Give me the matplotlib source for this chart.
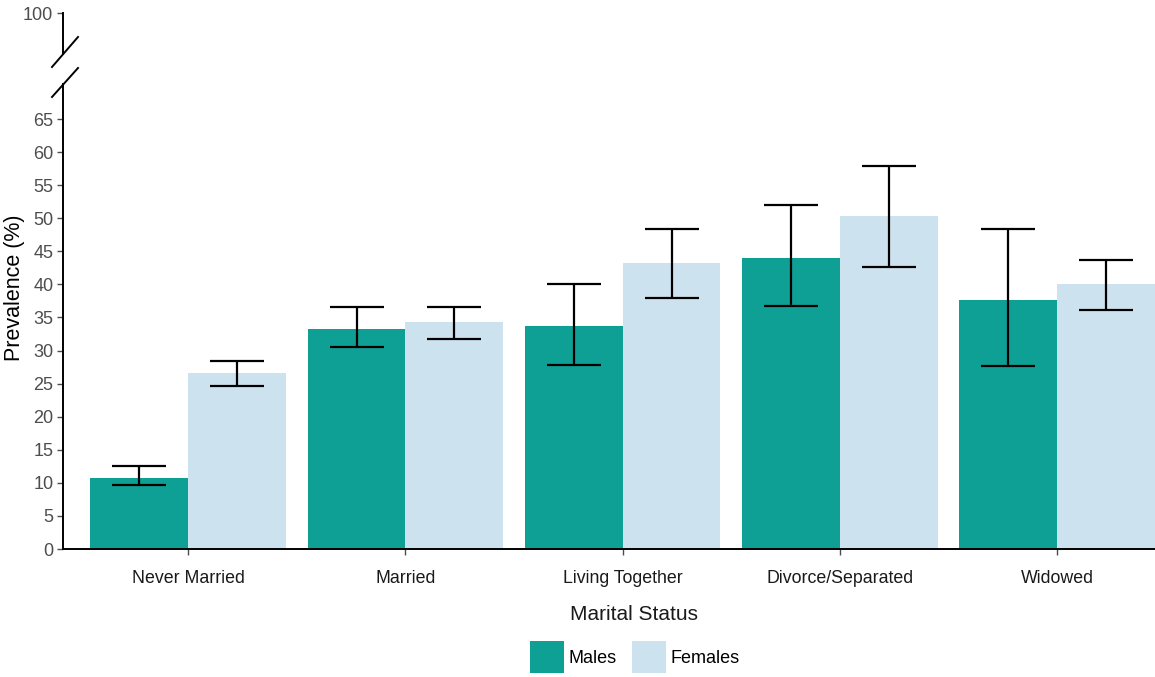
import matplotlib
matplotlib.use("Agg")
import matplotlib.pyplot as plt
from matplotlib.lines import Line2D
import numpy as np

plt.rcParams['font.family'] = ['Liberation Sans', 'DejaVu Sans']

categories = ["Never Married", "Married", "Living Together", "Divorce/Separated", "Widowed"]
males = [10.8, 33.3, 33.7, 44.0, 37.7]
males_low = [9.7, 30.6, 27.8, 36.8, 27.7]
males_high = [12.6, 36.6, 40.1, 52.0, 48.4]
females = [26.6, 34.3, 43.2, 50.4, 40.0]
females_low = [24.6, 31.7, 37.9, 42.7, 36.2]
females_high = [28.4, 36.6, 48.4, 57.9, 43.7]

teal = "#0fa095"
light = "#cde2ef"
tick_grey = "#4d4d4d"

W, H = 1155, 677
fig = plt.figure(figsize=(W / 100, H / 100), dpi=100)

def fx(px):
    return px / W

def fy(py):
    return 1 - py / H

left_px, right_px = 63, 1155
bottom_px, top_px = 549, 84
scale = (549 - 119) / 65.0  # pixels per percentage point

ax = fig.add_axes([fx(left_px), fy(bottom_px), fx(right_px - left_px), (bottom_px - top_px) / H])
ax_top = fig.add_axes([fx(left_px), fy(54), fx(right_px - left_px), (54 - 13) / H])

x = np.arange(len(categories))
w = 0.45
ax.bar(x - w / 2, males, width=w, color=teal, label="Males")
ax.bar(x + w / 2, females, width=w, color=light, label="Females")

m = np.array(males)
f = np.array(females)
ax.errorbar(x - w / 2, m, yerr=[m - np.array(males_low), np.array(males_high) - m],
            fmt="none", ecolor="black", elinewidth=1.6, capsize=19.5, capthick=1.6)
ax.errorbar(x + w / 2, f, yerr=[f - np.array(females_low), np.array(females_high) - f],
            fmt="none", ecolor="black", elinewidth=1.6, capsize=19.5, capthick=1.6)

ax.set_xlim(-0.576, 4.45)
ax.set_ylim(0, (bottom_px - top_px) / scale)
ax.set_yticks(np.arange(0, 70, 5))
ax.set_xticks(x)
ax.set_xticklabels(categories, fontsize=12.8, color="black")
ax.tick_params(axis="y", labelsize=13, colors=tick_grey, length=4, width=1, pad=3)
ax.tick_params(axis="x", length=4, width=1, colors=tick_grey, pad=11)
for lab in ax.get_xticklabels():
    lab.set_color("#1a1a1a")
for s in ["top", "right"]:
    ax.spines[s].set_visible(False)
for s in ["left", "bottom"]:
    ax.spines[s].set_linewidth(1.4)
    ax.spines[s].set_color("black")

# axis titles
fig.text(fx(15), fy(288), "Prevalence (%)", rotation=90, fontsize=15.5,
         ha="center", va="center", color="black")
fig.text(fx(634), fy(614), "Marital Status", fontsize=15,
         ha="center", va="center", color="#1a1a1a")

# upper segment of the broken axis
ax_top.set_xlim(ax.get_xlim())
ax_top.set_ylim(100 - 41 / scale, 100)
ax_top.set_yticks([100])
ax_top.tick_params(axis="y", labelsize=13, colors=tick_grey, length=4, width=1, pad=3)
ax_top.set_xticks([])
for s in ["top", "right", "bottom"]:
    ax_top.spines[s].set_visible(False)
ax_top.spines["left"].set_linewidth(1.4)
ax_top.patch.set_alpha(0)

# break marks
for (x0, y0, x1, y1) in [(52, 67, 78, 37), (52, 97, 78, 68)]:
    fig.add_artist(Line2D([fx(x0), fx(x1)], [fy(y0), fy(y1)], color="black", lw=1.4))

handles, labels = ax.get_legend_handles_labels()
fig.legend(handles, labels, loc="center", bbox_to_anchor=(fx(635), fy(657)), ncol=2,
           frameon=False, fontsize=13, handlelength=1.85, handleheight=2.4,
           handletextpad=0.28, columnspacing=0.85, borderaxespad=0)

fig.savefig("out.png", dpi=100)
